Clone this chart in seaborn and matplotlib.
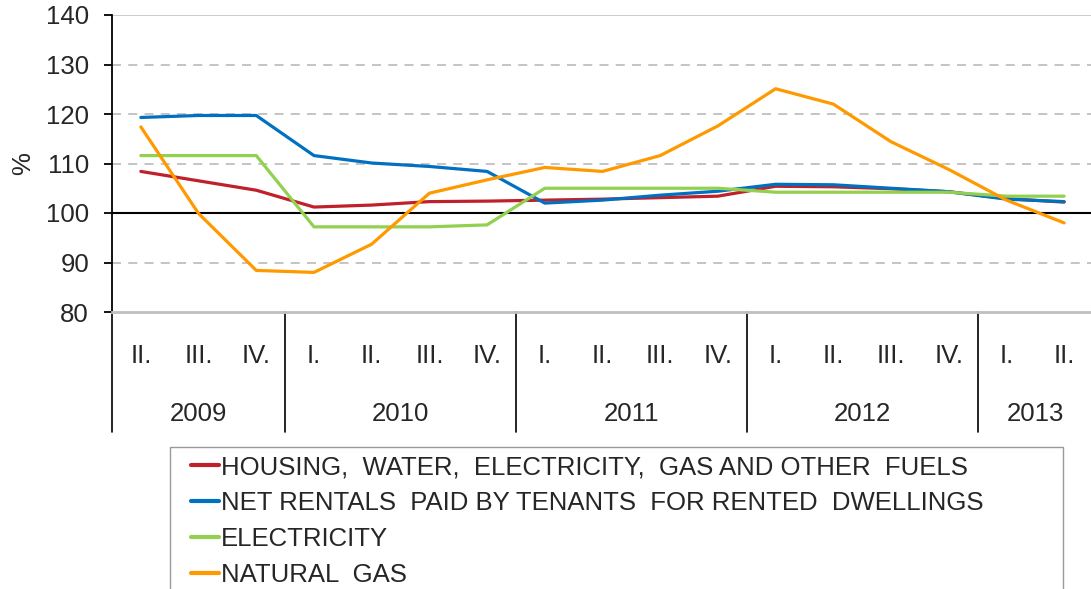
import pandas as pd
import numpy as np
import matplotlib
matplotlib.use("Agg")
import matplotlib.pyplot as plt
import matplotlib.transforms as mtransforms
from matplotlib.patches import Rectangle
import seaborn as sns

# quarters 2009 II - 2013 II
quarters = ["II.", "III.", "IV.",
            "I.", "II.", "III.", "IV.",
            "I.", "II.", "III.", "IV.",
            "I.", "II.", "III.", "IV.",
            "I.", "II."]
years = ["2009", "2010", "2011", "2012", "2013"]
quarters_per_year = [3, 4, 4, 4, 2]

housing = [108.4, 106.5, 104.6, 101.2, 101.6, 102.3, 102.4, 102.6, 102.8, 103.1, 103.4,
           105.4, 105.3, 104.9, 104.3, 102.9, 102.2]
rentals = [119.3, 119.7, 119.7, 111.6, 110.1, 109.4, 108.4, 102.0, 102.6, 103.6, 104.4,
           105.8, 105.7, 105.0, 104.3, 102.8, 102.3]
electricity = [111.6, 111.6, 111.6, 97.2, 97.2, 97.2, 97.6, 105.0, 105.0, 105.0, 105.0,
               104.2, 104.2, 104.2, 104.2, 103.4, 103.4]
natural_gas = [117.4, 99.9, 88.4, 88.0, 93.7, 104.0, 106.7, 109.2, 108.4, 111.6, 117.6,
               125.1, 122.0, 114.4, 108.8, 102.6, 98.0]

series_names = ["HOUSING,  WATER,  ELECTRICITY,  GAS AND OTHER  FUELS",
                "NET RENTALS  PAID BY TENANTS  FOR RENTED  DWELLINGS",
                "ELECTRICITY",
                "NATURAL  GAS"]
colors = ["#C0202A", "#0070C0", "#92D050", "#FF9900"]

frames = []
for name, vals in zip(series_names, [housing, rentals, electricity, natural_gas]):
    frames.append(pd.DataFrame({"idx": np.arange(len(vals)), "value": vals, "series": name}))
df = pd.concat(frames, ignore_index=True)

sns.set_style("white")
plt.rcParams["font.family"] = ["Liberation Sans", "DejaVu Sans"]

W, H = 1091, 589
fig = plt.figure(figsize=(W / 100, H / 100), dpi=100)
ax = fig.add_axes([112 / W, 1 - 312 / H, (1093 - 112) / W, (312 - 15) / H])

# gridlines
for v in [90, 110, 120, 130]:
    ax.axhline(v, color="#BFBFBF", lw=1.3, ls=(0, (5, 4)), zorder=0)
ax.axhline(140, color="#C8C8C8", lw=1.3, zorder=0)
ax.axhline(100, color="black", lw=1.5, zorder=1)

sns.lineplot(data=df, x="idx", y="value", hue="series", palette=colors,
             linewidth=2.3, ax=ax, legend=True, zorder=3)

ax.set_ylim(80, 140)
ax.set_yticks(range(80, 141, 10))
ax.set_xlim(-0.5, len(quarters) - 0.5)
ax.tick_params(axis="y", labelsize=18.5, length=5.5, width=1.3, color="black",
               direction="out", pad=11, left=True)
ax.set_ylabel("%", fontsize=18.5, labelpad=8)
ax.set_xlabel("")

ax.set_xticks(range(len(quarters)))
ax.set_xticklabels(quarters, fontsize=18.5)
ax.tick_params(axis="x", length=0, pad=23)

for s in ["top", "right"]:
    ax.spines[s].set_visible(False)
ax.spines["left"].set_color("black")
ax.spines["left"].set_linewidth(1.3)
ax.spines["bottom"].set_color("#BFBFBF")
ax.spines["bottom"].set_linewidth(2)

# year labels and separators below the axis
trans = mtransforms.blended_transform_factory(ax.transData, ax.transAxes)
bounds = np.concatenate([[0], np.cumsum(quarters_per_year)]) - 0.5
for i, yr in enumerate(years):
    mid = (bounds[i] + bounds[i + 1]) / 2
    ax.text(mid, -0.345, yr, transform=trans, ha="center", va="center", fontsize=18.5)
for b in bounds[:-1]:
    ax.plot([b, b], [0, -0.404], transform=trans, color="black", lw=1.2, clip_on=False)

# legend box (frame drawn separately so the entries sit inside like the original)
fig.patches.append(Rectangle((170 / W, -0.05), (1063 - 170) / W, 0.05 + (589 - 447) / H,
                             transform=fig.transFigure, fill=False,
                             edgecolor="#999999", lw=1.0))
handles, labels = ax.get_legend_handles_labels()
ax.legend_.remove()
leg = fig.legend(handles, labels, loc="upper left",
                 bbox_to_anchor=(191 / W, 1 - 455 / H),
                 fontsize=18.5, frameon=False, handlelength=1.1, handletextpad=0.08,
                 labelspacing=0.47, borderaxespad=0, borderpad=0)
for h in leg.get_lines():
    h.set_linewidth(3)

fig.savefig("out.png", dpi=100)
